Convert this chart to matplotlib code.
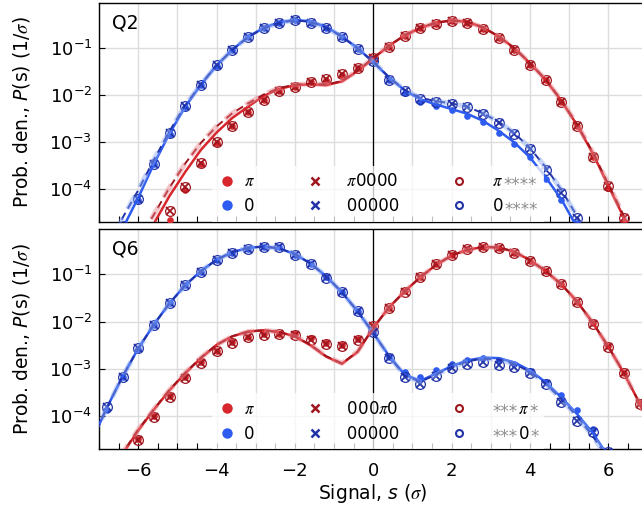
import matplotlib
matplotlib.use("Agg")
import matplotlib.pyplot as plt
from matplotlib.lines import Line2D
from matplotlib.ticker import MultipleLocator, FuncFormatter, NullLocator, LogLocator
from matplotlib.transforms import IdentityTransform
import numpy as np

plt.rcParams['font.family'] = ['DejaVu Sans']
plt.rcParams['mathtext.fontset'] = 'custom'
plt.rcParams['mathtext.rm'] = 'DejaVu Sans'
plt.rcParams['mathtext.it'] = 'STIXGeneral:italic'
plt.rcParams['mathtext.sf'] = 'DejaVu Sans:italic'

nan = np.nan
# signal bins (sigma), -7.2 ... 7.2 in steps of 0.4
s_grid = np.round(np.arange(-7.2, 7.21, 0.4), 1)

# all values below are log10 of the probability density (1/sigma)
# ---- Q2 ----
q2_pi_pts = [nan, nan, nan, nan, -4.90, -4.47, -3.96, -3.45, -3.01,
             -2.65, -2.37, -2.10, -1.92, -1.83, -1.73, -1.66, -1.56, -1.42,
             -1.21, -0.97, -0.75, -0.57, -0.48, -0.43, -0.47, -0.59, -0.78,
             -1.03, -1.36, -1.67, -2.14, -2.65, -3.31, -3.93, -4.62, nan, nan]
q2_pi_dots = [nan, nan, nan, nan, nan, -4.67, -4.03, -3.48, -3.03,
              -2.66, -2.37, -2.10, -1.92, -1.83, -1.73, -1.67, -1.57, -1.43,
              -1.22, -0.97, -0.75, -0.57, -0.48, -0.43, -0.47, -0.59, -0.78,
              -1.03, -1.36, -1.68, -2.15, -2.67, -3.33, -3.98, -4.72, nan, nan]
q2_pi_fit = [nan, nan, nan, -5.30, -4.74, -4.15, -3.64, -3.17, -2.80,
             -2.49, -2.25, -2.02, -1.87, -1.79, -1.77, -1.79, -1.71, -1.49,
             -1.22, -0.95, -0.73, -0.57, -0.46, -0.41, -0.44, -0.56, -0.75,
             -1.00, -1.32, -1.68, -2.12, -2.64, -3.24, -3.93, -4.62, -5.40, nan]
q2_pi_fit2 = [nan, nan, nan, -5.10, -4.55, -3.97, -3.46, -3.02, -2.67,
              -2.39, -2.18, -1.99, -1.85, -1.78, -1.76, -1.78, -1.70, -1.48,
              -1.21, -0.95, -0.73, -0.57, -0.46, -0.41, -0.44, -0.56, -0.75,
              -1.00, -1.32, -1.67, -2.11, -2.62, -3.21, -3.90, -4.58, -5.35, nan]

q2_zero_pts = [nan, nan, -4.80, -4.21, -3.46, -2.80, -2.24, -1.78, -1.37,
               -1.03, -0.76, -0.58, -0.47, -0.41, -0.46, -0.57, -0.76, -1.01,
               -1.27, -1.67, -1.92, -2.09, -2.14, -2.19, -2.25, -2.41, -2.59,
               -2.84, -3.16, -3.59, -4.08, -4.62, nan, nan, nan, nan, nan]
q2_zero_dots = [nan, nan, -4.85, -4.23, -3.48, -2.84, -2.26, -1.79, -1.38,
                -1.04, -0.77, -0.58, -0.47, -0.41, -0.46, -0.57, -0.76, -1.01,
                -1.28, -1.67, -1.95, -2.14, -2.24, -2.32, -2.44, -2.58, -2.81,
                -3.04, -3.32, -3.79, -4.23, -4.72, nan, nan, nan, nan, nan]
q2_zero_fit = [nan, -5.60, -4.85, -4.19, -3.47, -2.82, -2.25, -1.78, -1.37,
               -1.04, -0.76, -0.57, -0.45, -0.40, -0.43, -0.55, -0.75, -1.00,
               -1.30, -1.62, -1.90, -2.09, -2.20, -2.30, -2.40, -2.55, -2.76,
               -3.01, -3.33, -3.75, -4.22, -4.82, -5.50, nan, nan, nan, nan]
q2_zero_fit2 = [nan, -5.40, -4.62, -4.03, -3.38, -2.77, -2.22, -1.77, -1.37,
                -1.04, -0.77, -0.58, -0.46, -0.41, -0.44, -0.56, -0.76, -1.01,
                -1.29, -1.62, -1.89, -2.06, -2.13, -2.18, -2.25, -2.39, -2.57,
                -2.81, -3.13, -3.54, -4.02, -4.58, -5.20, nan, nan, nan, nan]

# ---- Q6 ----
q6_pi_pts = [nan, nan, nan, -4.50, -4.01, -3.59, -3.20, -2.87, -2.63,
             -2.44, -2.33, -2.28, -2.26, -2.29, -2.38, -2.47, -2.51, -2.38,
             -2.10, -1.71, -1.37, -1.06, -0.79, -0.58, -0.47, -0.43, -0.45,
             -0.55, -0.72, -0.93, -1.21, -1.59, -2.04, -2.53, -3.09, -3.73, nan]
q6_pi_dots = [nan, nan, nan, -4.48, -4.00, -3.57, -3.18, -2.85, -2.62,
              -2.43, -2.32, -2.27, -2.25, -2.27, -2.35, -2.45, -2.50, -2.37,
              -2.09, -1.70, -1.36, -1.06, -0.79, -0.58, -0.47, -0.43, -0.45,
              -0.55, -0.72, -0.93, -1.21, -1.58, -2.03, -2.52, -3.08, -3.72, nan]
q6_pi_fit = [nan, -5.35, -4.80, -4.30, -3.86, -3.45, -3.09, -2.77, -2.49,
             -2.31, -2.21, -2.18, -2.22, -2.31, -2.50, -2.74, -2.89, -2.64,
             -2.13, -1.70, -1.36, -1.06, -0.80, -0.60, -0.48, -0.42, -0.43,
             -0.52, -0.70, -0.93, -1.21, -1.57, -2.02, -2.53, -3.09, -3.73, -4.45]
q6_pi_fit2 = [nan, -5.33, -4.78, -4.28, -3.85, -3.44, -3.08, -2.76, -2.49,
              -2.31, -2.21, -2.18, -2.22, -2.31, -2.49, -2.73, -2.88, -2.63,
              -2.13, -1.70, -1.36, -1.06, -0.80, -0.60, -0.48, -0.42, -0.43,
              -0.52, -0.70, -0.93, -1.21, -1.57, -2.02, -2.53, -3.09, -3.73, -4.45]

q6_zero_pts = [nan, -3.80, -3.16, -2.56, -2.06, -1.60, -1.23, -0.95, -0.70,
               -0.54, -0.46, -0.41, -0.43, -0.58, -0.79, -1.07, -1.38, -1.78,
               -2.22, -2.77, -3.18, -3.32, -3.15, -2.97, -2.90, -2.85, -2.91,
               -2.96, -3.09, -3.32, -3.70, -4.09, -4.33, -4.76, nan, nan, nan]
q6_zero_dots = [nan, -3.87, -3.17, -2.57, -2.07, -1.61, -1.23, -0.95, -0.70,
                -0.54, -0.46, -0.41, -0.43, -0.58, -0.79, -1.06, -1.37, -1.77,
                -2.22, -2.74, -3.06, -3.17, -3.02, -2.90, -2.80, -2.76, -2.80,
                -2.90, -3.04, -3.28, -3.55, -3.87, -4.26, -4.80, nan, nan, nan]
q6_zero_fit = [-4.55, -3.82, -3.16, -2.57, -2.06, -1.61, -1.23, -0.93, -0.69,
               -0.53, -0.44, -0.41, -0.45, -0.57, -0.77, -1.04, -1.38, -1.78,
               -2.24, -2.72, -3.12, -3.25, -3.10, -2.94, -2.82, -2.76, -2.77,
               -2.86, -3.03, -3.28, -3.60, -3.95, -4.35, -4.85, -5.40, nan, nan]
q6_zero_fit2 = [-4.55, -3.82, -3.16, -2.57, -2.06, -1.61, -1.23, -0.93, -0.69,
                -0.53, -0.44, -0.41, -0.45, -0.57, -0.77, -1.04, -1.38, -1.78,
                -2.24, -2.73, -3.14, -3.27, -3.12, -2.96, -2.84, -2.78, -2.80,
                -2.89, -3.06, -3.31, -3.64, -4.00, -4.42, -4.90, -5.45, nan, nan]

panel_tags = ["Q2", "Q6"]
# legend labels; third column given as (leading asterisks, state, trailing asterisks)
legend_labels = {
    "Q2": ["$\\pi$", "0", "   $\\pi$0000", "   00000",
           ("", "$\\pi$", "****"), ("", "$\\mathrm{0}$", "****")],
    "Q6": ["$\\pi$", "0", "   000$\\pi$0", "   00000",
           ("***", "$\\pi$", "*"), ("***", "$\\mathrm{0}$", "*")],
}
pad3 = "   "

red = '#d7262c'
red_dark = '#a0161e'
red_light = '#e8828a'
blue = '#2f5cf0'
blue_dark = '#2233a8'
blue_light = '#86a6f2'
FS = 13
FS_LEG = 12


def draw_state(ax, pts, dots, fit, fit2, c, cd, cl):
    pts = 10.0 ** np.array(pts)
    dots = 10.0 ** np.array(dots)
    fit = 10.0 ** np.array(fit)
    fit2 = 10.0 ** np.array(fit2)
    ax.plot(s_grid, dots, 'o', color=c, ms=4.8, mec='none', zorder=3)
    ax.plot(s_grid, pts, 'x', color=cd, ms=5.5, mew=1.3, zorder=4)
    ax.plot(s_grid, pts, 'o', mfc='none', mec=cd, ms=7, mew=0.9, zorder=4)
    ax.plot(s_grid, fit, '-', color=c, lw=1.8, zorder=5)
    ax.plot(s_grid, fit2, '--', color=cd, lw=1.4, dashes=(4, 2.5), zorder=6)
    ax.plot(s_grid, fit2, '--', color=cl, lw=3.6, alpha=0.45, dashes=(3, 2), zorder=7)


def even_label(v, pos):
    n = int(round(v))
    if n % 2:
        return ""
    return str(n).replace('-', '\u2212')


fig = plt.figure(figsize=(6.42, 5.17), dpi=100)
ax_top = fig.add_axes([0.1542, 0.5712, 0.8544, 0.4224])
ax_bot = fig.add_axes([0.1542, 0.1309, 0.8544, 0.4256])

data = {
    "Q2": (q2_pi_pts, q2_pi_dots, q2_pi_fit, q2_pi_fit2, q2_zero_pts, q2_zero_dots, q2_zero_fit, q2_zero_fit2),
    "Q6": (q6_pi_pts, q6_pi_dots, q6_pi_fit, q6_pi_fit2, q6_zero_pts, q6_zero_dots, q6_zero_fit, q6_zero_fit2),
}

overlays = []
for ax, tag in zip((ax_top, ax_bot), panel_tags):
    d = data[tag]
    draw_state(ax, d[0], d[1], d[2], d[3], red, red_dark, red_light)
    draw_state(ax, d[4], d[5], d[6], d[7], blue, blue_dark, blue_light)
    ax.axvline(0, color='black', lw=0.9, zorder=2)

    ax.set_xlim(-7, 7)
    ax.set_yscale('log')
    ax.set_ylim(2e-5, 0.9)
    ax.xaxis.set_major_locator(MultipleLocator(1))
    ax.xaxis.set_minor_locator(MultipleLocator(0.5))
    ax.xaxis.set_major_formatter(FuncFormatter(even_label))
    ax.yaxis.set_major_locator(LogLocator(base=10, numticks=12))
    ax.yaxis.set_minor_locator(NullLocator())
    ax.tick_params(which='both', direction='in', length=4, width=0.8,
                   top=False, right=False, labelsize=FS)
    ax.tick_params(axis='x', pad=9)
    ax.tick_params(axis='y', pad=5)
    ax.grid(True, which='major', color='#dcdcdc', lw=1.0, zorder=0)
    ax.set_axisbelow(True)
    for sp in ax.spines.values():
        sp.set_linewidth(1.0)

    ax.set_ylabel("Prob. den., $\\mathsf{P}$(s) (1/$\\sigma$)", fontsize=13.5)
    ax.yaxis.set_label_coords(-0.123, 0.5)
    ax.text(0.024, 0.955, tag, transform=ax.transAxes, fontsize=13.5, va='top', ha='left')

    labs = legend_labels[tag]
    handles = [
        Line2D([], [], ls='none', marker='o', ms=7.5, color=red, mec='none'),
        Line2D([], [], ls='none', marker='o', ms=7.5, color=blue, mec='none'),
        Line2D([], [], ls='none', marker='x', ms=5.5, mew=1.8, color=red_dark),
        Line2D([], [], ls='none', marker='x', ms=5.5, mew=1.8, color=blue_dark),
        Line2D([], [], ls='none', marker='o', ms=5, mew=1.5, mfc='none', mec=red_dark),
        Line2D([], [], ls='none', marker='o', ms=5, mew=1.5, mfc='none', mec=blue_dark),
    ]
    texts = labs[:4] + [pad3 + "".join(labs[4]) + " ", pad3 + "".join(labs[5]) + " "]
    leg = ax.legend(handles, texts, ncol=3, loc='lower left', bbox_to_anchor=(0.206, 0.0),
                    borderaxespad=0.0, fontsize=FS_LEG, handlelength=1.0, handletextpad=0.5,
                    columnspacing=3.1, labelspacing=0.4, borderpad=0.4,
                    frameon=True, fancybox=False, framealpha=0.75, edgecolor='none',
                    facecolor='white')
    leg.set_zorder(8)
    overlays.append((leg, labs[4:]))

ax_top.tick_params(axis='x', labelbottom=False)
ax_bot.set_xlabel("Signal, $\\mathsf{s}$ ($\\sigma$)", fontsize=13.5)
ax_bot.xaxis.set_label_coords(0.5, -0.15)

# third legend column: black state symbol, small grey asterisks around it
fig.canvas.draw()
renderer = fig.canvas.get_renderer()


def width(s, prop):
    return renderer.get_text_width_height_descent(s, prop, ismath=True)[0]


gap = 1.0  # px between the state symbol and the asterisks
for leg, parts in overlays:
    ltexts = leg.get_texts()[4:]
    for t, (pre, core, post) in zip(ltexts, parts):
        t.set_alpha(0.0)
        prop = t.get_fontproperties()
        full = pad3 + pre + core + post
        w_full = width(full, prop)
        x0, y0 = t.get_transform().transform(t.get_position())
        kw = dict(transform=IdentityTransform(), fontproperties=prop, ha='left', zorder=10)
        x_core = x0 + w_full - width(core + post, prop)
        if pre:
            x_core += gap
            fig.text(x0 + w_full - width(pre + core + post, prop), y0 - 3.5, pre,
                     color='#8c8c8c', va='baseline', **kw)
        fig.text(x_core, y0, core, color='black', va='baseline', **kw)
        if post:
            fig.text(x_core + width(core, prop) + gap, y0 - 3.5, post,
                     color='#8c8c8c', va='baseline', **kw)

fig.savefig("out.png", dpi=100)
